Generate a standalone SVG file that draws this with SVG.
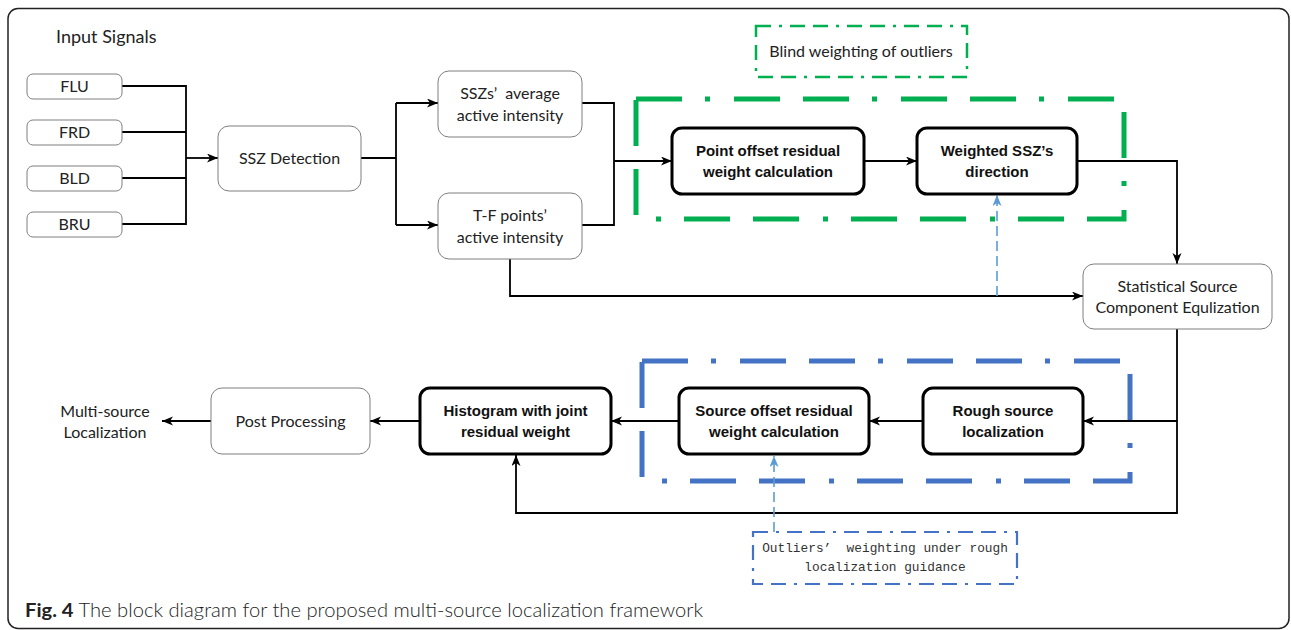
<svg xmlns="http://www.w3.org/2000/svg" width="1291" height="630" viewBox="0 0 1291 630">
<style>
.frame{fill:#fff;stroke:#222;stroke-width:1.5}
.box{fill:#fff;stroke:#7f7f7f;stroke-width:1}
.tbox{fill:#fff;stroke:#000;stroke-width:3}
.t{font-family:Lato,"Open Sans",sans-serif;font-size:16px;fill:#222;text-anchor:middle}
.tb{font-family:"Liberation Sans",Arial,sans-serif;font-size:15px;font-weight:bold;fill:#111;text-anchor:middle}
.mono{font-family:"Liberation Mono","Courier New",monospace;font-size:12.8px;fill:#333;text-anchor:middle}
.c{fill:none;stroke:#000;stroke-width:1.8}
.cb{fill:none;stroke:#5b9bd5;stroke-width:1.6;stroke-dasharray:10 5}
.bigg{fill:none;stroke:#00b050;stroke-width:5;stroke-dasharray:46 23 5 24 46 23}
.bigb{fill:none;stroke:#4472c4;stroke-width:5;stroke-dasharray:46 23 5 24 46 23}
.smg{fill:none;stroke:#00b050;stroke-width:2.5;stroke-dasharray:15 8 3 8 15 8}
.smb{fill:none;stroke:#4472c4;stroke-width:2.2;stroke-dasharray:15 8 3 8 15 8}
</style>
<defs>
<marker id="ah" markerUnits="userSpaceOnUse" markerWidth="12" markerHeight="10" refX="11" refY="4.5" orient="auto">
<path d="M0,0 L11,4.5 L0,9 L3,4.5 z" fill="#000"/>
</marker>
<marker id="ahb" markerUnits="userSpaceOnUse" markerWidth="12" markerHeight="10" refX="11" refY="4.5" orient="auto">
<path d="M0,0 L11,4.5 L0,9 L3,4.5 z" fill="#5b9bd5"/>
</marker>
</defs>
<rect class="frame" x="8" y="8.5" width="1281" height="620" rx="10"/>
<text x="56" y="43" font-family="Lato,'Open Sans',sans-serif" font-size="18" fill="#222">Input Signals</text>

<g id="group-green">
<rect class="bigg" x="636" y="99" width="488" height="120"/>
<rect class="smg" x="756" y="26" width="211" height="51"/>
<text class="t" x="861" y="57" font-size="15">Blind weighting of outliers</text>
</g>
<g id="group-blue">
<rect class="bigb" x="642" y="361" width="488" height="120"/>
<rect class="smb" x="753" y="532" width="264" height="52"/>
<text class="mono" x="885" y="552" xml:space="preserve">Outliers’  weighting under rough</text>
<text class="mono" x="885" y="571">localization guidance</text>
</g>

<g id="connectors">
<path class="c" d="M122,86 H186 M122,132 H186 M122,178 H186 M122,224 H186 M186,85 V225"/>
<path class="c" d="M186,158 H218" marker-end="url(#ah)"/>
<path class="c" d="M361,158 H396 M396,103 V225"/>
<path class="c" d="M396,103 H438" marker-end="url(#ah)"/>
<path class="c" d="M396,225 H438" marker-end="url(#ah)"/>
<path class="c" d="M582,103 H614 V225 H582"/>
<path class="c" d="M614,161 H672" marker-end="url(#ah)"/>
<path class="c" d="M864,161 H917" marker-end="url(#ah)"/>
<path class="c" d="M1077,161 H1177 V264" marker-end="url(#ah)"/>
<path class="c" d="M510,259 V296 H1083" marker-end="url(#ah)"/>
<path class="c" d="M1177,329 V513 H516 V455" marker-end="url(#ah)"/>
<path class="c" d="M1177,421 H1083" marker-end="url(#ah)"/>
<path class="c" d="M923,421 H869" marker-end="url(#ah)"/>
<path class="c" d="M679,421 H611" marker-end="url(#ah)"/>
<path class="c" d="M420,421 H370" marker-end="url(#ah)"/>
<path class="c" d="M211,421 H162" marker-end="url(#ah)"/>
<path class="cb" d="M997,296 V195" marker-end="url(#ahb)"/>
<path class="cb" d="M774,532 V456" marker-end="url(#ahb)"/>
</g>

<g id="n-flu"><rect class="box" x="27" y="74" width="95" height="25" rx="6"/><text class="t" x="74.5" y="92">FLU</text></g>
<g id="n-frd"><rect class="box" x="27" y="120" width="95" height="25" rx="6"/><text class="t" x="74.5" y="138">FRD</text></g>
<g id="n-bld"><rect class="box" x="27" y="166" width="95" height="25" rx="6"/><text class="t" x="74.5" y="184">BLD</text></g>
<g id="n-bru"><rect class="box" x="27" y="212" width="95" height="25" rx="6"/><text class="t" x="74.5" y="230">BRU</text></g>
<g id="n-ssz"><rect class="box" x="218" y="126" width="143" height="65" rx="11"/><text class="t" x="289.5" y="164">SSZ Detection</text></g>
<g id="n-avg"><rect class="box" x="438" y="71" width="144" height="66" rx="11"/><text class="t" x="510" y="99">SSZs’&#160;&#160;average</text><text class="t" x="510" y="121">active intensity</text></g>
<g id="n-tf"><rect class="box" x="438" y="193" width="144" height="66" rx="11"/><text class="t" x="510" y="221">T-F points’</text><text class="t" x="510" y="243">active intensity</text></g>
<g id="n-point"><rect class="tbox" x="672" y="128" width="192" height="66" rx="10"/><text class="tb" x="768" y="156">Point offset residual</text><text class="tb" x="768" y="177">weight calculation</text></g>
<g id="n-weighted"><rect class="tbox" x="917" y="128" width="160" height="66" rx="10"/><text class="tb" x="997" y="156">Weighted SSZ’s</text><text class="tb" x="997" y="177">direction</text></g>
<g id="n-stat"><rect class="box" x="1083" y="264" width="189" height="65" rx="11"/><text class="t" x="1177.5" y="292">Statistical Source</text><text class="t" x="1177.5" y="313">Component Equlization</text></g>
<g id="n-rough"><rect class="tbox" x="923" y="388" width="160" height="66" rx="10"/><text class="tb" x="1003" y="416">Rough source</text><text class="tb" x="1003" y="437">localization</text></g>
<g id="n-source"><rect class="tbox" x="679" y="388" width="190" height="66" rx="10"/><text class="tb" x="774" y="416">Source offset residual</text><text class="tb" x="774" y="437">weight calculation</text></g>
<g id="n-hist"><rect class="tbox" x="420" y="388" width="191" height="66" rx="10"/><text class="tb" x="515.5" y="416">Histogram with joint</text><text class="tb" x="515.5" y="437">residual weight</text></g>
<g id="n-post"><rect class="box" x="211" y="388" width="159" height="66" rx="11"/><text class="t" x="290.5" y="427">Post Processing</text></g>
<g id="n-out"><text class="t" x="105" y="417">Multi-source</text><text class="t" x="105" y="438">Localization</text></g>

<text x="25" y="617" font-family="Lato,'Open Sans',sans-serif" font-size="19" font-weight="300" fill="#222" textLength="678" lengthAdjust="spacingAndGlyphs"><tspan font-weight="bold">Fig. 4</tspan> The block diagram for the proposed multi-source localization framework</text>
</svg>
